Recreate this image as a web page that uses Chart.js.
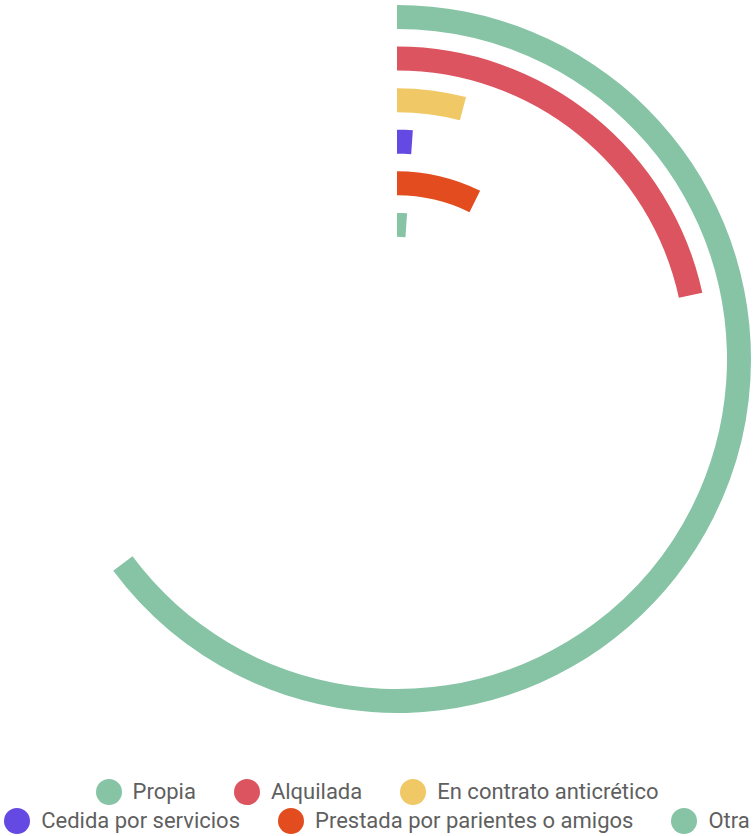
<!DOCTYPE html>
<html lang="es">
<head>
<meta charset="utf-8">
<title>Tenencia de la vivienda</title>
<script src="https://cdn.jsdelivr.net/npm/chart.js@4.4.1/dist/chart.umd.min.js"></script>
<style>
  html, body { margin: 0; padding: 0; background: #fff; }
  #wrap { position: relative; width: 754px; height: 836px; overflow: hidden; }
  #chartBox { position: absolute; left: 0; top: 0; width: 754px; height: 760px; }
  #legend {
    position: absolute; left: 0; top: 777px; width: 754px;
    display: flex; flex-wrap: wrap; justify-content: center; column-gap: 38px;
    font-family: Roboto, "Noto Sans", sans-serif; font-size: 22px; line-height: 29px; color: #5f5f5f;
  }
  .item { display: flex; align-items: center; white-space: nowrap; }
  .dot { width: 26px; height: 26px; border-radius: 50%; margin-right: 11px; flex: none; }
</style>
</head>
<body>
<div id="wrap">
  <div id="chartBox"><canvas id="chart"></canvas></div>
  <div id="legend"></div>
</div>
<script>
(() => {
  "use strict";

  // data (percent of households)
  const categories = [
    "Propia",
    "Alquilada",
    "En contrato anticrético",
    "Cedida por servicios",
    "Prestada por parientes o amigos",
    "Otra"
  ];
  const values = [64.8, 21.6, 4.1, 1.1, 7.3, 1.1];
  const total = 100;
  const colors = ["#86c4a5", "#dc545f", "#f0c865", "#6449e3", "#e24c1e", "#86c4a5"];

  const EMPTY = "rgba(0,0,0,0)";
  const RING = 24;   // ring weight
  const GAP = 17.6;  // spacer weight between rings

  const datasets = [];
  categories.forEach((name, i) => {
    datasets.push({
      label: name,
      data: [values[i], total - values[i]],
      backgroundColor: [colors[i], EMPTY],
      borderWidth: 0,
      weight: RING
    });
    if (i < categories.length - 1) {
      datasets.push({ label: "", data: [1], backgroundColor: [EMPTY], borderWidth: 0, weight: GAP });
    }
  });

  new Chart(document.getElementById("chart"), {
    type: "doughnut",
    data: { labels: [], datasets },
    options: {
      responsive: true,
      maintainAspectRatio: false,
      animation: false,
      events: [],
      cutout: "34.5%",
      layout: { padding: { left: 40, top: 5, right: 0, bottom: 47 } },
      plugins: {
        legend: { display: false },
        tooltip: { enabled: false }
      }
    }
  });

  // html legend
  const legendEl = document.getElementById("legend");
  legendEl.innerHTML = categories.map((name, i) => `
    <div class="item"><span class="dot" style="background:${colors[i]}"></span><span>${name}</span></div>
  `).join("");
})();
</script>
</body>
</html>
